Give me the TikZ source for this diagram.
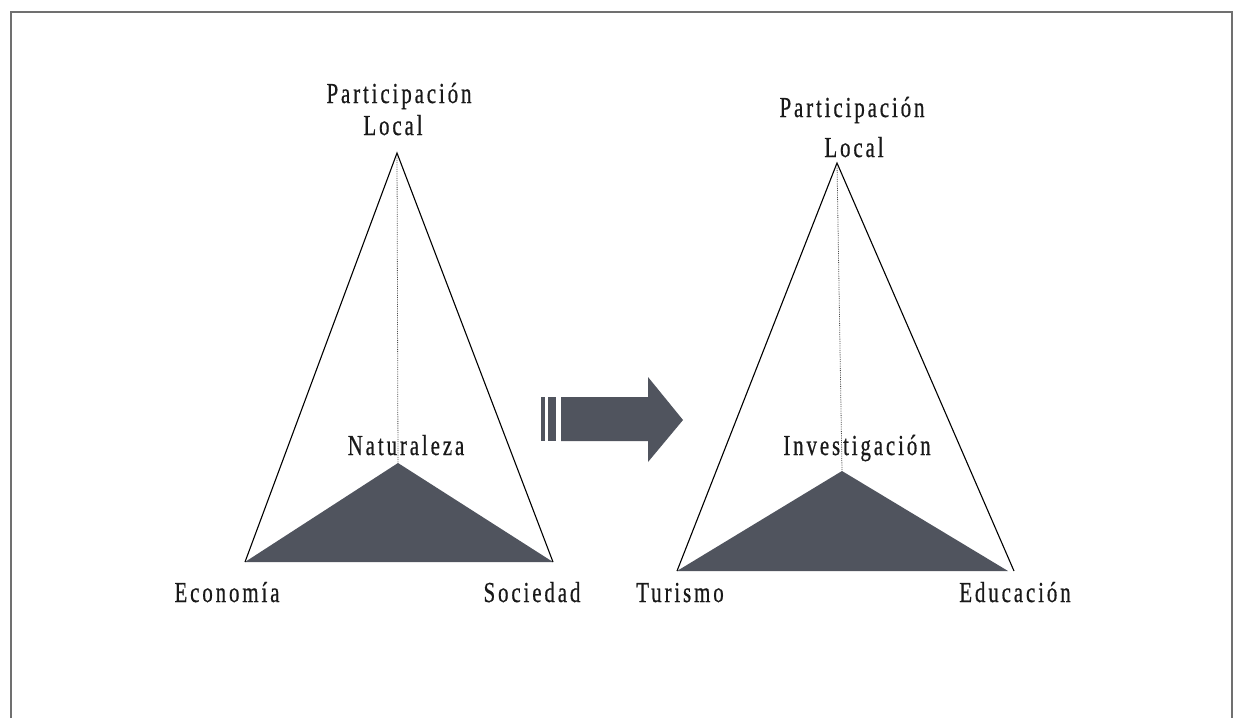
\documentclass[tikz,border=0pt]{standalone}
\usepackage{fontspec}
\setmainfont{Liberation Serif}[FakeStretch=0.72,LetterSpace=10,FakeBold=0.6]
\begin{document}
\begin{tikzpicture}[x=1pt,y=-1pt,
  lbl/.style={inner sep=0pt,anchor=base,font=\fontsize{29}{32}\selectfont,text=black!90},
  outer/.style={draw=black,line width=1.1pt,line join=miter},
  inner/.style={fill=fillgray,draw=none},
  axis/.style={draw=black!70,line width=0.8pt,densely dotted}]
\definecolor{fillgray}{HTML}{50545E}
\definecolor{framegray}{HTML}{707070}
\useasboundingbox (0,0) rectangle (1234,718);
\fill[white] (0,0) rectangle (1234,718);
% frame
\draw[framegray,line width=1.3pt] (11,718) -- (11,12) -- (1232,12) -- (1232,718);
% left triangle
\coordinate (LA) at (397,153);
\coordinate (LB) at (245,562);
\coordinate (LC) at (553,562);
\coordinate (LI) at (398,463);
\path[inner] (LB) -- (LI) -- (LC) -- cycle;
\draw[outer] (LB) -- (LA) -- (LC);
\draw[axis] (LA) -- (LI);
% right triangle
\coordinate (RA) at (837,163);
\coordinate (RB) at (677,571);
\coordinate (RC) at (1014,571);
\coordinate (RI) at (842,471);
\coordinate (RC2) at (1008,571);
\path[inner] (RB) -- (RI) -- (RC2) -- cycle;
\draw[outer] (RB) -- (RA) -- (RC);
\draw[axis] (RA) -- (RI);
% arrow
\fill[fillgray] (541,397) rectangle (545,441);
\fill[fillgray] (548,397) rectangle (556,441);
\fill[fillgray] (561,397) -- (648,397) -- (648,377) -- (683,420) -- (648,462) -- (648,441) -- (561,441) -- cycle;
% labels
\node[lbl] (p1) at (399,103) {Participación};
\node[lbl] (l1) at (393,135) {Local};
\node[lbl] (n1) at (406,455) {Naturaleza};
\node[lbl] (e1) at (227,602) {Economía};
\node[lbl] (s1) at (532,602) {Sociedad};
\node[lbl] (p2) at (852,117) {Participación};
\node[lbl] (l2) at (854,157) {Local};
\node[lbl] (i2) at (857,455) {Investigación};
\node[lbl] (t2) at (680,602) {Turismo};
\node[lbl] (e2) at (1015,602) {Educación};
\end{tikzpicture}
\end{document}
